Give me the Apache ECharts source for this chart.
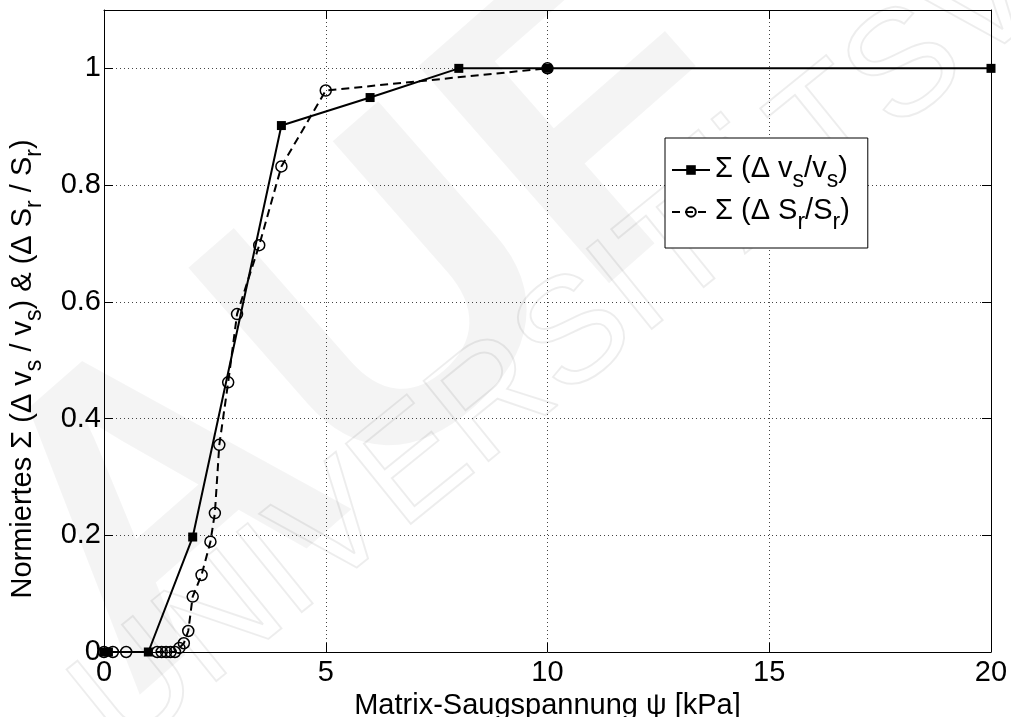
<!DOCTYPE html>
<html>
<head>
<meta charset="utf-8">
<script src="https://cdn.jsdelivr.net/npm/echarts@6/dist/echarts.min.js"></script>
<style>
html,body{margin:0;padding:0;background:#fff}
#container{width:1011px;height:717px}
</style>
</head>
<body>
<div id="container"></div>
<script>
// Σ(Δv_s/v_s) – solid line, filled squares
var vsX = [0, 0.1, 1, 2, 4, 6, 8, 10, 20];
var vsY = [0, 0, 0, 0.197, 0.902, 0.95, 1.0, 1.0, 1.0];
// Σ(ΔS_r/S_r) – dashed line, open circles
var srX = [0, 0.2, 0.5, 1.2, 1.3, 1.4, 1.5, 1.6, 1.7, 1.8, 1.9, 2.0, 2.2, 2.4, 2.5, 2.6, 2.8, 3.0, 3.5, 4.0, 5.0, 10.0];
var srY = [0, 0, 0, 0, 0, 0, 0, 0, 0.007, 0.015, 0.036, 0.095, 0.132, 0.189, 0.238, 0.355, 0.462, 0.579, 0.697, 0.832, 0.962, 1.0];
var xTicks = [0, 5, 10, 15, 20];
var yTicks = [0, 0.2, 0.4, 0.6, 0.8, 1];

var font = 'Liberation Sans';
var dom = document.getElementById("container");
var myChart = echarts.init(dom);

function pairs(xs, ys) {
    var out = [];
    for (var i = 0; i < xs.length; i++) out.push([xs[i], ys[i]]);
    return out;
}

// main text and lowered subscripts (rich text)
var txt = {fontFamily: font, fontSize: 29, color: '#000', lineHeight: 40, verticalAlign: 'top', padding: [4, 0, 0, 0]};
var sub = {fontFamily: font, fontSize: 23, color: '#000', lineHeight: 40, verticalAlign: 'top', padding: [19, 0, 0, 0]};

var option = {
    backgroundColor: '#fff',
    animation: false,
    grid: {left: 104, right: 20, top: 10, bottom: 65, outerBoundsMode: 'none', containLabel: false},
    legend: {
        orient: 'vertical',
        left: 665,
        top: 138,
        padding: [12, 18, 14, 6],
        itemGap: 0,
        itemWidth: 38,
        itemHeight: 12,
        borderColor: '#000',
        borderWidth: 1,
        backgroundColor: '#fff',
        data: ['vs', 'sr'],
        formatter: function (name) {
            if (name === 'vs') return '{t|Σ (Δ v}{s|s}{t|/v}{s|s}{t|)}';
            return '{t|Σ (Δ S}{s|r}{t|/S}{s|r}{t|)}';
        },
        textStyle: {rich: {t: txt, s: sub}}
    },
    graphic: [
        {
            type: 'text', z: -10, silent: true,
            x: 380, y: 330, rotation: 0.72,
            style: {text: 'AUF', fontFamily: font, fontSize: 420, fontWeight: 'bold', fill: 'rgba(0,0,0,0.045)', align: 'center', verticalAlign: 'middle'}
        },
        {
            type: 'text', z: -10, silent: true,
            x: 560, y: 350, rotation: 0.68,
            style: {text: 'UNIVERSITÄTSV', fontFamily: font, fontSize: 150, fill: 'none', stroke: 'rgba(0,0,0,0.07)', lineWidth: 2, align: 'center', verticalAlign: 'middle'}
        },
        {
            type: 'text', silent: true,
            x: 24, y: 369, rotation: Math.PI / 2,
            style: {
                text: '{t|Normiertes Σ (Δ v}{s|s}{t| / v}{s|s}{t|) & (Δ S}{s|r}{t| / S}{s|r}{t|)}',
                align: 'center', verticalAlign: 'middle',
                rich: {t: txt, s: sub}
            }
        }
    ],
    xAxis: [
        {
            type: 'value', min: 0, max: 20, interval: 5,
            name: 'Matrix-Saugspannung ψ [kPa]', nameLocation: 'middle', nameGap: 34,
            nameTextStyle: {fontFamily: font, fontSize: 29, color: '#000'},
            axisLine: {show: true, lineStyle: {color: '#000', width: 1}},
            axisTick: {show: true, inside: true, length: 9, lineStyle: {color: '#000'}},
            axisLabel: {fontFamily: font, fontSize: 29, color: '#000', margin: 6,
                formatter: function (v) { return xTicks.indexOf(v) >= 0 ? String(v) : ''; }},
            splitLine: {show: true, lineStyle: {color: '#444', type: [1, 3], width: 1}}
        },
        {
            type: 'value', min: 0, max: 20, interval: 5, position: 'top',
            axisLine: {show: true, onZero: false, lineStyle: {color: '#000'}},
            axisTick: {show: true, inside: true, length: 9, lineStyle: {color: '#000'}},
            axisLabel: {show: false}, splitLine: {show: false}
        }
    ],
    yAxis: [
        {
            type: 'value', min: 0, max: 1.1, interval: 0.2,
            axisLine: {show: true, lineStyle: {color: '#000', width: 1}},
            axisTick: {show: true, inside: true, length: 9, lineStyle: {color: '#000'}},
            axisLabel: {fontFamily: font, fontSize: 29, color: '#000', margin: 3,
                formatter: function (v) {
                    for (var i = 0; i < yTicks.length; i++) if (Math.abs(yTicks[i] - v) < 1e-6) return String(yTicks[i]);
                    return '';
                }},
            splitLine: {show: true, lineStyle: {color: '#444', type: [1, 3], width: 1}}
        },
        {
            type: 'value', min: 0, max: 1.1, interval: 0.2, position: 'right',
            axisLine: {show: true, onZero: false, lineStyle: {color: '#000'}},
            axisTick: {show: true, inside: true, length: 9, lineStyle: {color: '#000'}},
            axisLabel: {show: false}, splitLine: {show: false}
        }
    ],
    series: [
        {
            name: 'vs', type: 'line', data: pairs(vsX, vsY),
            symbol: 'rect', symbolSize: 9,
            itemStyle: {color: '#000'},
            lineStyle: {color: '#000', width: 2, type: 'solid'},
            z: 3
        },
        {
            name: 'sr', type: 'line', data: pairs(srX, srY),
            symbol: 'circle', symbolSize: 11,
            itemStyle: {color: 'rgba(255,255,255,0)', borderColor: '#000', borderWidth: 1.5},
            lineStyle: {color: '#000', width: 2, type: [8, 5]},
            z: 4
        }
    ]
};
myChart.setOption(option);
</script>
</body>
</html>
